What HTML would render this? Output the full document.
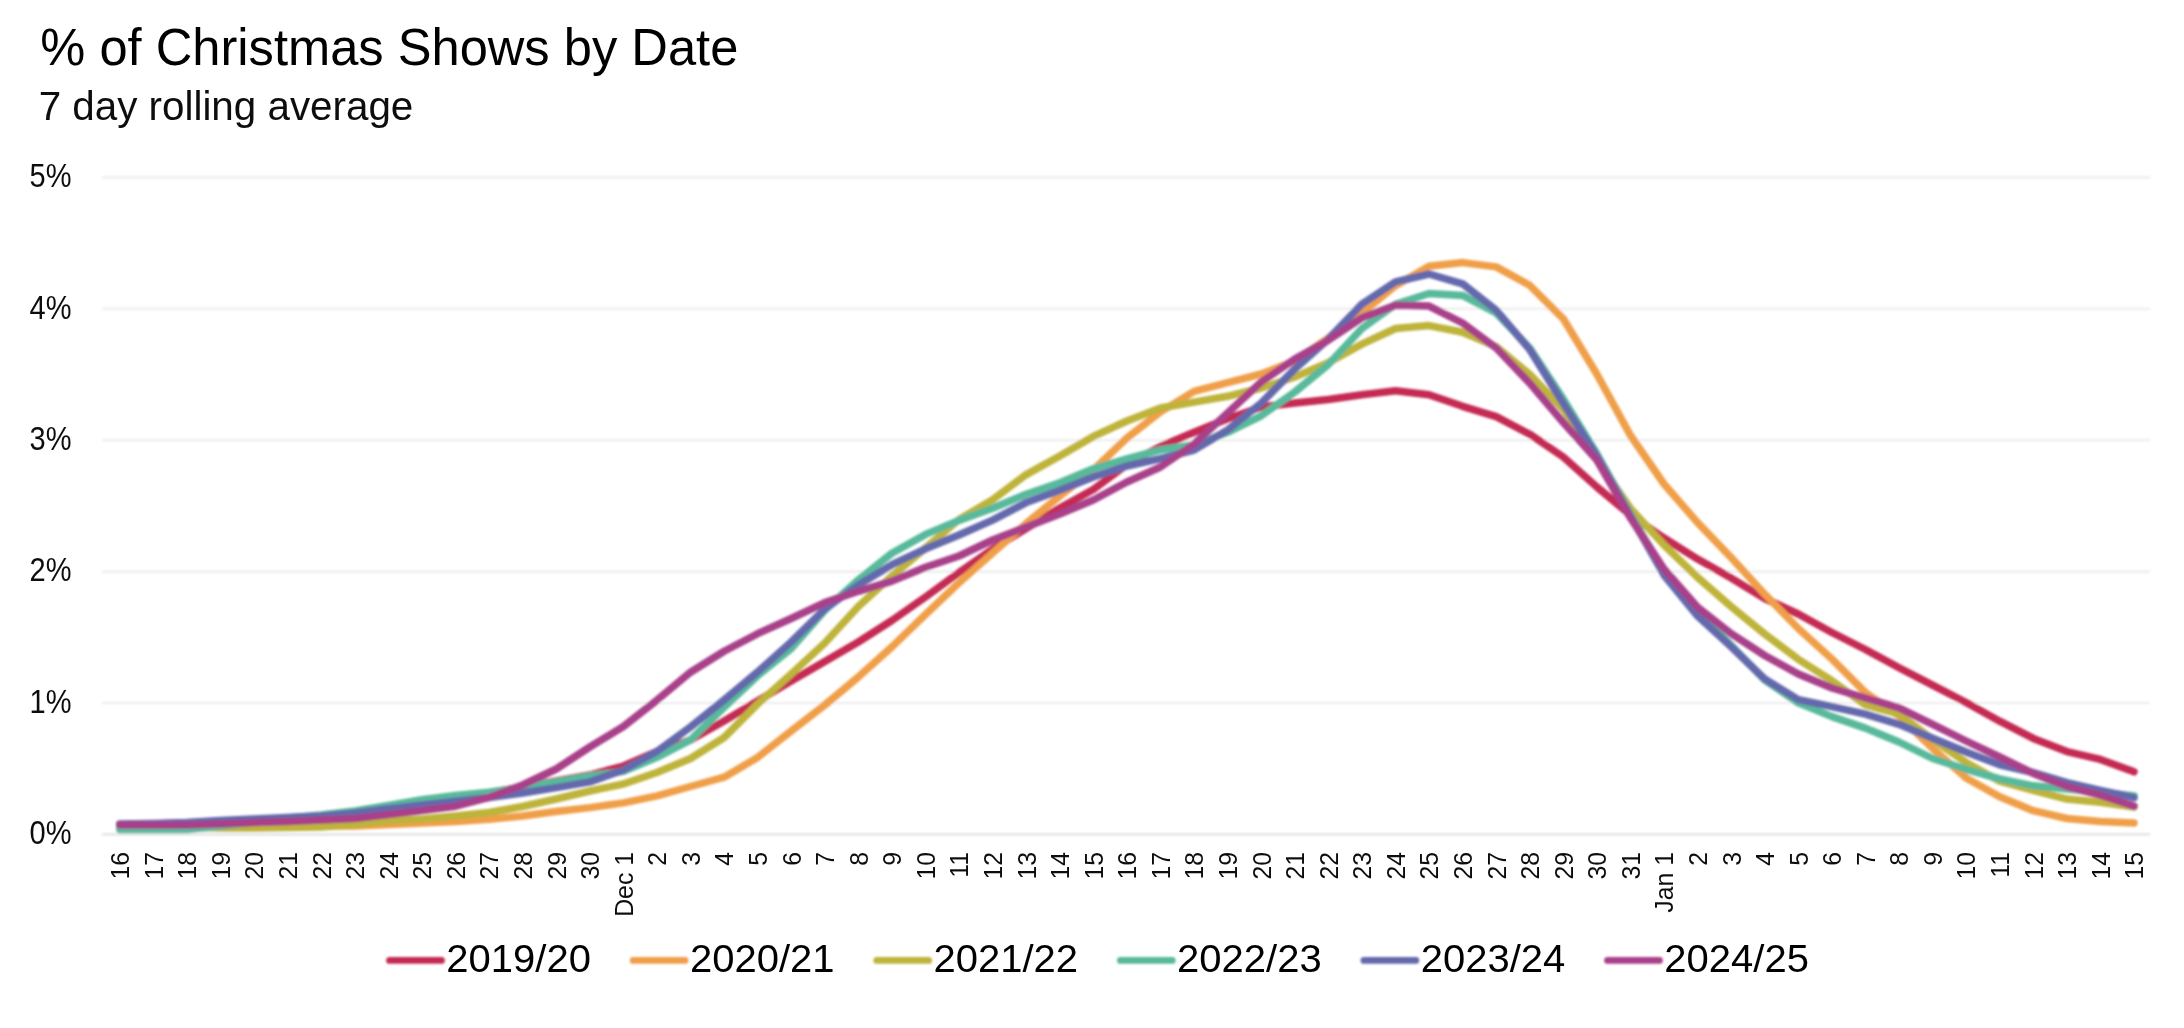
<!DOCTYPE html>
<html><head><meta charset="utf-8"><style>
html,body{margin:0;padding:0;background:#fff;}
body{width:2184px;height:1028px;overflow:hidden;}
svg{display:block;}
text{font-family:"Liberation Sans",sans-serif;fill:#1a1a1a;}
.t{font-size:52px;fill:#000;}
.st{font-size:40px;fill:#111;}
.yl{font-size:32.5px;fill:#111;}
.xl{font-size:26px;fill:#111;}
.lg{font-size:39px;fill:#000;}
</style></head><body>
<svg width="2184" height="1028" viewBox="0 0 2184 1028">
<defs><filter id="bl" x="-5%" y="-5%" width="110%" height="110%"><feGaussianBlur stdDeviation="0.9"/></filter><filter id="bt" x="-5%" y="-5%" width="110%" height="110%"><feGaussianBlur stdDeviation="0.45"/></filter></defs>
<rect width="2184" height="1028" fill="#fff"/>
<g filter="url(#bt)">
<text x="40.3" y="65" class="t" textLength="698" lengthAdjust="spacingAndGlyphs">% of Christmas Shows by Date</text>
<text x="38.7" y="119.7" class="st" textLength="374.6" lengthAdjust="spacingAndGlyphs">7 day rolling average</text>
<text x="71.5" y="844.2" text-anchor="end" class="yl" textLength="42" lengthAdjust="spacingAndGlyphs">0%</text><text x="71.5" y="712.8" text-anchor="end" class="yl" textLength="42" lengthAdjust="spacingAndGlyphs">1%</text><text x="71.5" y="581.4" text-anchor="end" class="yl" textLength="42" lengthAdjust="spacingAndGlyphs">2%</text><text x="71.5" y="450.0" text-anchor="end" class="yl" textLength="42" lengthAdjust="spacingAndGlyphs">3%</text><text x="71.5" y="318.6" text-anchor="end" class="yl" textLength="42" lengthAdjust="spacingAndGlyphs">4%</text><text x="71.5" y="187.2" text-anchor="end" class="yl" textLength="42" lengthAdjust="spacingAndGlyphs">5%</text>
<text transform="translate(129.1,852) rotate(-90) scale(0.955,1)" text-anchor="end" class="xl">16</text><text transform="translate(162.7,852) rotate(-90) scale(0.955,1)" text-anchor="end" class="xl">17</text><text transform="translate(196.2,852) rotate(-90) scale(0.955,1)" text-anchor="end" class="xl">18</text><text transform="translate(229.8,852) rotate(-90) scale(0.955,1)" text-anchor="end" class="xl">19</text><text transform="translate(263.4,852) rotate(-90) scale(0.955,1)" text-anchor="end" class="xl">20</text><text transform="translate(296.9,852) rotate(-90) scale(0.955,1)" text-anchor="end" class="xl">21</text><text transform="translate(330.5,852) rotate(-90) scale(0.955,1)" text-anchor="end" class="xl">22</text><text transform="translate(364.1,852) rotate(-90) scale(0.955,1)" text-anchor="end" class="xl">23</text><text transform="translate(397.7,852) rotate(-90) scale(0.955,1)" text-anchor="end" class="xl">24</text><text transform="translate(431.2,852) rotate(-90) scale(0.955,1)" text-anchor="end" class="xl">25</text><text transform="translate(464.8,852) rotate(-90) scale(0.955,1)" text-anchor="end" class="xl">26</text><text transform="translate(498.4,852) rotate(-90) scale(0.955,1)" text-anchor="end" class="xl">27</text><text transform="translate(531.9,852) rotate(-90) scale(0.955,1)" text-anchor="end" class="xl">28</text><text transform="translate(565.5,852) rotate(-90) scale(0.955,1)" text-anchor="end" class="xl">29</text><text transform="translate(599.1,852) rotate(-90) scale(0.955,1)" text-anchor="end" class="xl">30</text><text transform="translate(632.6,852) rotate(-90) scale(0.955,1)" text-anchor="end" class="xl">Dec 1</text><text transform="translate(666.2,852) rotate(-90) scale(0.955,1)" text-anchor="end" class="xl">2</text><text transform="translate(699.8,852) rotate(-90) scale(0.955,1)" text-anchor="end" class="xl">3</text><text transform="translate(733.4,852) rotate(-90) scale(0.955,1)" text-anchor="end" class="xl">4</text><text transform="translate(766.9,852) rotate(-90) scale(0.955,1)" text-anchor="end" class="xl">5</text><text transform="translate(800.5,852) rotate(-90) scale(0.955,1)" text-anchor="end" class="xl">6</text><text transform="translate(834.1,852) rotate(-90) scale(0.955,1)" text-anchor="end" class="xl">7</text><text transform="translate(867.6,852) rotate(-90) scale(0.955,1)" text-anchor="end" class="xl">8</text><text transform="translate(901.2,852) rotate(-90) scale(0.955,1)" text-anchor="end" class="xl">9</text><text transform="translate(934.8,852) rotate(-90) scale(0.955,1)" text-anchor="end" class="xl">10</text><text transform="translate(968.3,852) rotate(-90) scale(0.955,1)" text-anchor="end" class="xl">11</text><text transform="translate(1001.9,852) rotate(-90) scale(0.955,1)" text-anchor="end" class="xl">12</text><text transform="translate(1035.5,852) rotate(-90) scale(0.955,1)" text-anchor="end" class="xl">13</text><text transform="translate(1069.1,852) rotate(-90) scale(0.955,1)" text-anchor="end" class="xl">14</text><text transform="translate(1102.6,852) rotate(-90) scale(0.955,1)" text-anchor="end" class="xl">15</text><text transform="translate(1136.2,852) rotate(-90) scale(0.955,1)" text-anchor="end" class="xl">16</text><text transform="translate(1169.8,852) rotate(-90) scale(0.955,1)" text-anchor="end" class="xl">17</text><text transform="translate(1203.3,852) rotate(-90) scale(0.955,1)" text-anchor="end" class="xl">18</text><text transform="translate(1236.9,852) rotate(-90) scale(0.955,1)" text-anchor="end" class="xl">19</text><text transform="translate(1270.5,852) rotate(-90) scale(0.955,1)" text-anchor="end" class="xl">20</text><text transform="translate(1304.0,852) rotate(-90) scale(0.955,1)" text-anchor="end" class="xl">21</text><text transform="translate(1337.6,852) rotate(-90) scale(0.955,1)" text-anchor="end" class="xl">22</text><text transform="translate(1371.2,852) rotate(-90) scale(0.955,1)" text-anchor="end" class="xl">23</text><text transform="translate(1404.8,852) rotate(-90) scale(0.955,1)" text-anchor="end" class="xl">24</text><text transform="translate(1438.3,852) rotate(-90) scale(0.955,1)" text-anchor="end" class="xl">25</text><text transform="translate(1471.9,852) rotate(-90) scale(0.955,1)" text-anchor="end" class="xl">26</text><text transform="translate(1505.5,852) rotate(-90) scale(0.955,1)" text-anchor="end" class="xl">27</text><text transform="translate(1539.0,852) rotate(-90) scale(0.955,1)" text-anchor="end" class="xl">28</text><text transform="translate(1572.6,852) rotate(-90) scale(0.955,1)" text-anchor="end" class="xl">29</text><text transform="translate(1606.2,852) rotate(-90) scale(0.955,1)" text-anchor="end" class="xl">30</text><text transform="translate(1639.8,852) rotate(-90) scale(0.955,1)" text-anchor="end" class="xl">31</text><text transform="translate(1673.3,852) rotate(-90) scale(0.955,1)" text-anchor="end" class="xl">Jan 1</text><text transform="translate(1706.9,852) rotate(-90) scale(0.955,1)" text-anchor="end" class="xl">2</text><text transform="translate(1740.5,852) rotate(-90) scale(0.955,1)" text-anchor="end" class="xl">3</text><text transform="translate(1774.0,852) rotate(-90) scale(0.955,1)" text-anchor="end" class="xl">4</text><text transform="translate(1807.6,852) rotate(-90) scale(0.955,1)" text-anchor="end" class="xl">5</text><text transform="translate(1841.2,852) rotate(-90) scale(0.955,1)" text-anchor="end" class="xl">6</text><text transform="translate(1874.7,852) rotate(-90) scale(0.955,1)" text-anchor="end" class="xl">7</text><text transform="translate(1908.3,852) rotate(-90) scale(0.955,1)" text-anchor="end" class="xl">8</text><text transform="translate(1941.9,852) rotate(-90) scale(0.955,1)" text-anchor="end" class="xl">9</text><text transform="translate(1975.4,852) rotate(-90) scale(0.955,1)" text-anchor="end" class="xl">10</text><text transform="translate(2009.0,852) rotate(-90) scale(0.955,1)" text-anchor="end" class="xl">11</text><text transform="translate(2042.6,852) rotate(-90) scale(0.955,1)" text-anchor="end" class="xl">12</text><text transform="translate(2076.2,852) rotate(-90) scale(0.955,1)" text-anchor="end" class="xl">13</text><text transform="translate(2109.7,852) rotate(-90) scale(0.955,1)" text-anchor="end" class="xl">14</text><text transform="translate(2143.3,852) rotate(-90) scale(0.955,1)" text-anchor="end" class="xl">15</text>
<text x="446.3" y="971.8" class="lg" textLength="144.6" lengthAdjust="spacingAndGlyphs">2019/20</text><text x="689.9" y="971.8" class="lg" textLength="144.6" lengthAdjust="spacingAndGlyphs">2020/21</text><text x="933.5" y="971.8" class="lg" textLength="144.6" lengthAdjust="spacingAndGlyphs">2021/22</text><text x="1177.1" y="971.8" class="lg" textLength="144.6" lengthAdjust="spacingAndGlyphs">2022/23</text><text x="1420.7" y="971.8" class="lg" textLength="144.6" lengthAdjust="spacingAndGlyphs">2023/24</text><text x="1664.3" y="971.8" class="lg" textLength="144.6" lengthAdjust="spacingAndGlyphs">2024/25</text>
</g>
<g filter="url(#bl)">
<line x1="102" y1="834.4" x2="2150" y2="834.4" stroke="#e6e6e6" stroke-width="2.6"/><line x1="102" y1="703.0" x2="2150" y2="703.0" stroke="#efefef" stroke-width="2.6"/><line x1="102" y1="571.6" x2="2150" y2="571.6" stroke="#efefef" stroke-width="2.6"/><line x1="102" y1="440.2" x2="2150" y2="440.2" stroke="#efefef" stroke-width="2.6"/><line x1="102" y1="308.8" x2="2150" y2="308.8" stroke="#efefef" stroke-width="2.6"/><line x1="102" y1="177.4" x2="2150" y2="177.4" stroke="#efefef" stroke-width="2.6"/>
<polyline points="119.8,824.5 153.4,824.0 186.9,823.0 220.5,821.5 254.1,820.0 287.6,818.5 321.2,816.5 354.8,814.0 388.4,809.5 421.9,803.0 455.5,798.0 489.1,793.0 522.6,787.0 556.2,781.0 589.8,775.0 623.4,766.0 656.9,751.5 690.5,740.0 724.1,721.0 757.6,701.0 791.2,681.0 824.8,661.5 858.3,642.0 891.9,620.5 925.5,597.0 959.0,572.5 992.6,549.0 1026.2,528.5 1059.8,508.0 1093.3,489.5 1126.9,464.5 1160.5,446.5 1194.0,432.3 1227.6,418.7 1261.2,407.0 1294.8,403.0 1328.3,399.5 1361.9,394.7 1395.5,390.8 1429.0,394.7 1462.6,406.3 1496.2,416.6 1529.7,434.2 1563.3,457.0 1596.9,487.0 1630.5,515.0 1664.0,538.0 1697.6,559.1 1731.2,578.1 1764.7,598.5 1798.3,614.0 1831.9,632.5 1865.4,649.5 1899.0,667.7 1932.6,685.2 1966.1,702.5 1999.7,721.2 2033.3,738.4 2066.9,751.6 2100.4,759.4 2134.0,771.8" fill="none" stroke="#c42b52" stroke-width="7.5" stroke-linejoin="round" stroke-linecap="round"/><polyline points="119.8,826.0 153.4,826.0 186.9,826.0 220.5,826.0 254.1,826.0 287.6,826.0 321.2,826.0 354.8,826.0 388.4,824.4 421.9,823.0 455.5,821.5 489.1,819.3 522.6,816.0 556.2,811.5 589.8,807.6 623.4,802.9 656.9,795.9 690.5,786.5 724.1,777.2 757.6,757.4 791.2,731.0 824.8,705.0 858.3,677.0 891.9,646.9 925.5,614.5 959.0,582.7 992.6,553.0 1026.2,523.5 1059.8,496.0 1093.3,470.0 1126.9,438.0 1160.5,411.9 1194.0,391.4 1227.6,382.5 1261.2,374.0 1294.8,361.0 1328.3,338.2 1361.9,313.0 1395.5,285.7 1429.0,266.3 1462.6,262.6 1496.2,266.9 1529.7,285.3 1563.3,318.8 1596.9,374.3 1630.5,435.5 1664.0,484.0 1697.6,522.6 1731.2,557.7 1764.7,594.2 1798.3,628.5 1831.9,659.0 1865.4,692.5 1899.0,716.0 1932.6,748.4 1966.1,778.0 1999.7,796.7 2033.3,810.7 2066.9,818.5 2100.4,821.6 2134.0,822.9" fill="none" stroke="#f09f4a" stroke-width="7.5" stroke-linejoin="round" stroke-linecap="round"/><polyline points="119.8,826.0 153.4,826.0 186.9,827.0 220.5,828.0 254.1,828.0 287.6,827.5 321.2,826.9 354.8,824.4 388.4,821.1 421.9,819.0 455.5,816.1 489.1,812.5 522.6,806.5 556.2,799.0 589.8,791.0 623.4,784.0 656.9,772.5 690.5,758.5 724.1,737.5 757.6,704.0 791.2,674.0 824.8,643.0 858.3,606.5 891.9,576.0 925.5,548.0 959.0,519.5 992.6,499.8 1026.2,474.6 1059.8,456.0 1093.3,436.4 1126.9,421.0 1160.5,408.0 1194.0,402.1 1227.6,396.3 1261.2,388.0 1294.8,377.0 1328.3,362.6 1361.9,344.1 1395.5,328.5 1429.0,325.6 1462.6,332.2 1496.2,346.6 1529.7,374.3 1563.3,409.3 1596.9,460.0 1630.5,508.5 1664.0,545.0 1697.6,577.4 1731.2,606.7 1764.7,634.0 1798.3,659.3 1831.9,680.7 1865.4,705.0 1899.0,714.0 1932.6,739.5 1966.1,762.4 1999.7,781.2 2033.3,790.5 2066.9,799.1 2100.4,802.2 2134.0,807.0" fill="none" stroke="#beb33a" stroke-width="7.5" stroke-linejoin="round" stroke-linecap="round"/><polyline points="119.8,829.5 153.4,829.5 186.9,829.5 220.5,826.0 254.1,822.0 287.6,818.0 321.2,815.0 354.8,811.0 388.4,805.4 421.9,799.6 455.5,795.4 489.1,792.2 522.6,787.5 556.2,781.7 589.8,776.0 623.4,771.4 656.9,757.4 690.5,739.9 724.1,707.2 757.6,675.7 791.2,648.5 824.8,610.2 858.3,579.9 891.9,553.3 925.5,534.4 959.0,520.4 992.6,508.3 1026.2,494.2 1059.8,482.7 1093.3,468.8 1126.9,458.8 1160.5,449.8 1194.0,444.9 1227.6,432.3 1261.2,415.8 1294.8,392.0 1328.3,364.5 1361.9,328.5 1395.5,304.2 1429.0,293.5 1462.6,295.4 1496.2,313.0 1529.7,348.0 1563.3,399.1 1596.9,454.0 1630.5,514.5 1664.0,572.0 1697.6,610.0 1731.2,645.3 1764.7,680.0 1798.3,702.8 1831.9,716.6 1865.4,728.1 1899.0,742.0 1932.6,758.5 1966.1,769.3 1999.7,778.8 2033.3,785.8 2066.9,789.0 2100.4,792.1 2134.0,796.0" fill="none" stroke="#58b99b" stroke-width="7.5" stroke-linejoin="round" stroke-linecap="round"/><polyline points="119.8,824.0 153.4,823.5 186.9,822.5 220.5,820.5 254.1,819.0 287.6,817.5 321.2,815.9 354.8,813.0 388.4,808.7 421.9,804.9 455.5,801.2 489.1,797.5 522.6,793.0 556.2,787.6 589.8,781.9 623.4,770.0 656.9,751.5 690.5,727.0 724.1,700.0 757.6,672.0 791.2,642.0 824.8,609.0 858.3,585.0 891.9,564.7 925.5,548.8 959.0,535.0 992.6,520.1 1026.2,502.6 1059.8,490.2 1093.3,477.0 1126.9,466.0 1160.5,458.6 1194.0,450.0 1227.6,430.0 1261.2,403.1 1294.8,369.0 1328.3,339.2 1361.9,304.2 1395.5,281.8 1429.0,274.0 1462.6,283.8 1496.2,310.1 1529.7,349.5 1563.3,403.5 1596.9,456.0 1630.5,516.0 1664.0,575.0 1697.6,616.0 1731.2,646.7 1764.7,679.0 1798.3,699.6 1831.9,706.6 1865.4,714.2 1899.0,724.3 1932.6,738.3 1966.1,752.0 1999.7,764.8 2033.3,772.6 2066.9,782.7 2100.4,790.5 2134.0,797.7" fill="none" stroke="#6369ac" stroke-width="7.5" stroke-linejoin="round" stroke-linecap="round"/><polyline points="119.8,825.0 153.4,825.0 186.9,825.0 220.5,824.0 254.1,822.5 287.6,821.5 321.2,820.0 354.8,818.5 388.4,814.5 421.9,810.5 455.5,806.2 489.1,797.3 522.6,785.0 556.2,769.0 589.8,747.0 623.4,726.5 656.9,700.2 690.5,672.2 724.1,651.2 757.6,633.7 791.2,618.5 824.8,602.6 858.3,591.3 891.9,581.1 925.5,567.2 959.0,556.0 992.6,540.0 1026.2,527.0 1059.8,514.0 1093.3,500.0 1126.9,482.0 1160.5,467.0 1194.0,444.0 1227.6,413.0 1261.2,382.0 1294.8,359.0 1328.3,340.2 1361.9,317.8 1395.5,305.2 1429.0,306.1 1462.6,323.0 1496.2,348.0 1529.7,383.1 1563.3,422.5 1596.9,460.0 1630.5,518.0 1664.0,569.0 1697.6,607.3 1731.2,633.6 1764.7,655.5 1798.3,674.0 1831.9,688.0 1865.4,698.0 1899.0,707.9 1932.6,724.3 1966.1,741.0 1999.7,757.0 2033.3,773.4 2066.9,786.6 2100.4,795.2 2134.0,806.1" fill="none" stroke="#a83f8a" stroke-width="7.5" stroke-linejoin="round" stroke-linecap="round"/>
<line x1="389.5" y1="960.4" x2="441.5" y2="960.4" stroke="#c42b52" stroke-width="6.7" stroke-linecap="round"/><line x1="633.1" y1="960.4" x2="685.1" y2="960.4" stroke="#f09f4a" stroke-width="6.7" stroke-linecap="round"/><line x1="876.7" y1="960.4" x2="928.7" y2="960.4" stroke="#beb33a" stroke-width="6.7" stroke-linecap="round"/><line x1="1120.3" y1="960.4" x2="1172.3" y2="960.4" stroke="#58b99b" stroke-width="6.7" stroke-linecap="round"/><line x1="1363.9" y1="960.4" x2="1415.9" y2="960.4" stroke="#6369ac" stroke-width="6.7" stroke-linecap="round"/><line x1="1607.5" y1="960.4" x2="1659.5" y2="960.4" stroke="#a83f8a" stroke-width="6.7" stroke-linecap="round"/>
</g>
</svg>
</body></html>
